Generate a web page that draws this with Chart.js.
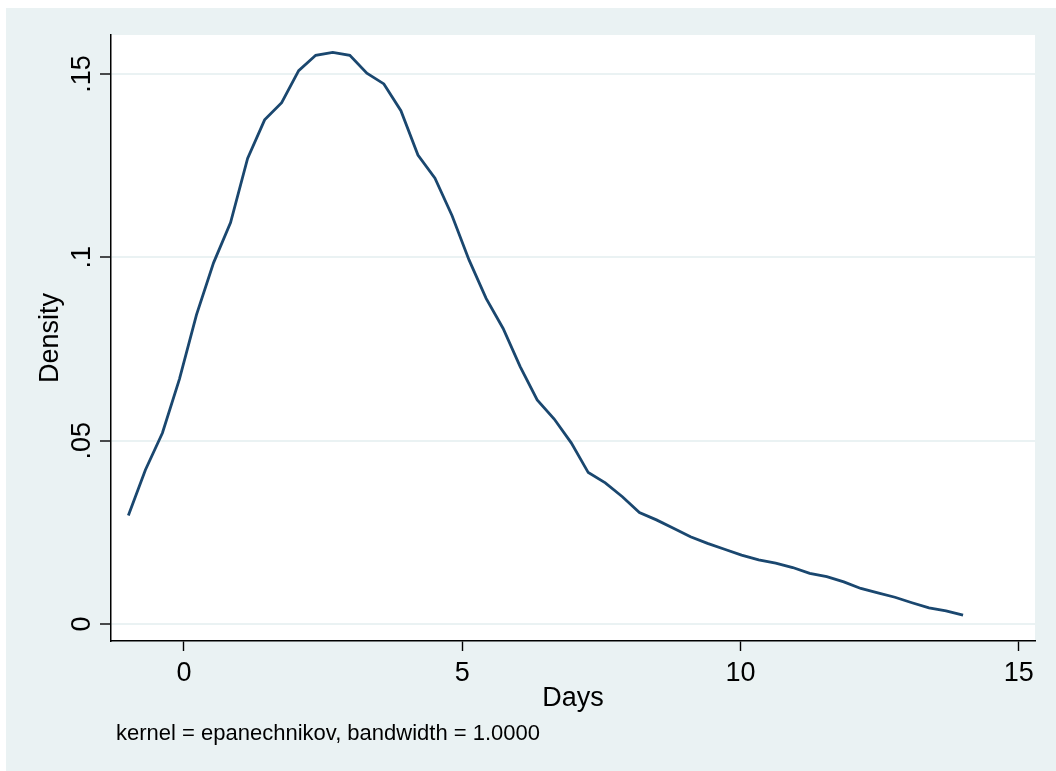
<!DOCTYPE html>
<html>
<head>
<meta charset="utf-8">
<script src="https://cdn.jsdelivr.net/npm/chart.js@4.4.1/dist/chart.umd.min.js"></script>
<style>
  html, body { margin: 0; padding: 0; background: #ffffff; }
  #wrap { position: relative; width: 1056px; height: 771px; }
</style>
</head>
<body>
<div id="wrap"><canvas id="c" width="1056" height="771"></canvas></div>
<script>
// ---- data ----
const days = [-1.000, -0.694, -0.388, -0.082, 0.224, 0.531, 0.837, 1.143, 1.449, 1.755,
  2.061, 2.367, 2.673, 2.980, 3.286, 3.592, 3.898, 4.204, 4.510, 4.816,
  5.122, 5.429, 5.735, 6.041, 6.347, 6.653, 6.959, 7.265, 7.571, 7.878,
  8.184, 8.490, 8.796, 9.102, 9.408, 9.714, 10.020, 10.327, 10.633, 10.939,
  11.245, 11.551, 11.857, 12.163, 12.469, 12.776, 13.082, 13.388, 13.694, 14.000];
const density = [0.0296, 0.0420, 0.0521, 0.0668, 0.0843, 0.0985, 0.1095, 0.1270, 0.1375, 0.1422,
  0.1509, 0.1551, 0.1559, 0.1551, 0.1502, 0.1473, 0.1400, 0.1279, 0.1216, 0.1114,
  0.0993, 0.0888, 0.0806, 0.0702, 0.0611, 0.0559, 0.0494, 0.0413, 0.0385, 0.0347,
  0.0304, 0.0284, 0.0261, 0.0238, 0.0220, 0.0204, 0.0188, 0.0175, 0.0166, 0.0154,
  0.0138, 0.0129, 0.0115, 0.0097, 0.0085, 0.0073, 0.0058, 0.0044, 0.0036, 0.0024];
const xTicks = [0, 5, 10, 15];
const xTickLabels = ['0', '5', '10', '15'];
const yTicks = [0, 0.05, 0.1, 0.15];
const yTickLabels = ['0', '.05', '.1', '.15'];
const xTitle = 'Days';
const yTitle = 'Density';
const note = 'kernel = epanechnikov, bandwidth = 1.0000';

// ---- style ----
const FONT = "'Liberation Sans', Arial, sans-serif";
const BG = '#EAF2F3';
const LINE = '#1A476F';

const points = days.map((d, i) => ({ x: d, y: density[i] }));

const backgroundPlugin = {
  id: 'stataBg',
  beforeDraw(chart) {
    const { ctx, chartArea } = chart;
    ctx.save();
    ctx.fillStyle = '#ffffff';
    ctx.fillRect(0, 0, chart.width, chart.height);
    ctx.fillStyle = BG;
    ctx.fillRect(6, 8, chart.width - 6, chart.height - 8);
    ctx.fillStyle = '#ffffff';
    ctx.fillRect(chartArea.left, chartArea.top, chartArea.right - chartArea.left, chartArea.bottom - chartArea.top);
    ctx.restore();
  },
  afterDraw(chart) {
    const { ctx } = chart;
    const ys = chart.scales.y;
    ctx.save();
    ctx.fillStyle = '#000000';
    ctx.font = '27px ' + FONT;
    ctx.textAlign = 'center';
    ctx.textBaseline = 'alphabetic';
    yTicks.forEach((v, i) => {
      const py = ys.getPixelForValue(v);
      ctx.save();
      ctx.translate(90, py);
      ctx.rotate(-Math.PI / 2);
      ctx.fillText(yTickLabels[i], 0, 0);
      ctx.restore();
    });
    ctx.font = '22px ' + FONT;
    ctx.textAlign = 'left';
    ctx.fillText(note, 116, 740);
    ctx.restore();
  }
};

new Chart(document.getElementById('c'), {
  type: 'line',
  data: {
    datasets: [{
      data: points,
      borderColor: LINE,
      borderWidth: 2.8,
      pointRadius: 0,
      tension: 0,
      fill: false
    }]
  },
  options: {
    responsive: false,
    animation: false,
    layout: { padding: { left: 0, top: 35, right: 21, bottom: 0 } },
    plugins: { legend: { display: false }, tooltip: { enabled: false } },
    scales: {
      x: {
        type: 'linear',
        min: -1.3118,
        max: 15.293,
        afterBuildTicks: s => { s.ticks = xTicks.map(v => ({ value: v })); },
        afterFit: s => { s.height = 130; },
        ticks: {
          color: '#000',
          font: { family: FONT, size: 27 },
          padding: 6,
          maxRotation: 0,
          callback: v => xTickLabels[xTicks.indexOf(v)]
        },
        grid: { drawOnChartArea: false, tickLength: 10, tickColor: '#000', tickWidth: 1.4 },
        border: { display: true, color: '#000', width: 1.5 },
        title: {
          display: true, text: xTitle, color: '#000',
          font: { family: FONT, size: 27 },
          padding: { top: 0, bottom: 56 }
        }
      },
      y: {
        type: 'linear',
        min: -0.004636,
        max: 0.16064,
        afterBuildTicks: s => { s.ticks = yTicks.map(v => ({ value: v })); },
        afterFit: s => { s.width = 111; },
        ticks: { display: false },
        grid: { color: BG, lineWidth: 2, tickLength: 11, tickColor: '#000', tickWidth: 1.4 },
        border: { display: true, color: '#000', width: 1.5 },
        title: {
          display: true, text: yTitle, color: '#000',
          font: { family: FONT, size: 27 },
          padding: { top: 34, bottom: 0 }
        }
      }
    }
  },
  plugins: [backgroundPlugin]
});
</script>
</body>
</html>
